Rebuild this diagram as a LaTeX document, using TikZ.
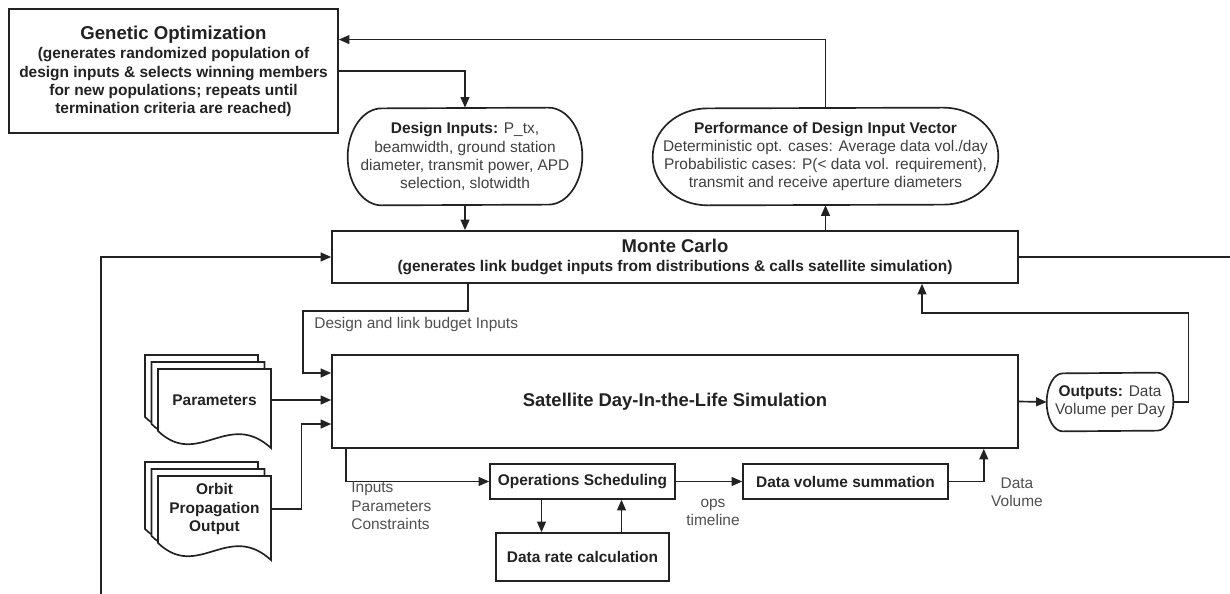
\documentclass[tikz,border=0pt]{standalone}
\usepackage{fontspec}
\setmainfont{Liberation Sans}
\usepackage{tikz}
\usetikzlibrary{arrows.meta,positioning,calc}
\definecolor{ink}{HTML}{222222}
\definecolor{txt}{HTML}{404040}
\definecolor{labelgray}{HTML}{505050}

% one sheet of a document stack, top left at origin
\newcommand{\docpage}[1]{%
  \filldraw[wire, fill=white] (0,0) -- (113,0) -- (113,#1)
    .. controls (70,#1-39) and (40,#1+21) .. (0,#1-17) -- cycle;}
\newcommand{\docstack}[3]{%
  \begin{scope}[shift={(#1-13,#2-14)}]\docpage{#3}\end{scope}
  \begin{scope}[shift={(#1-6.5,#2-7)}]\docpage{#3}\end{scope}
  \begin{scope}[shift={(#1,#2)}]\docpage{#3}\end{scope}}
% outline with elliptic ends round a node
\newcommand{\capsule}[3]{%
  \draw[wire] ($(#1.north east)+(-#2,0)$)
    arc[start angle=90, end angle=-90, x radius=#2, y radius=#3]
    -- ($(#1.south west)+(#2,0)$)
    arc[start angle=270, end angle=90, x radius=#2, y radius=#3] -- cycle;}

\begin{document}
\begin{tikzpicture}[
  x=0.02cm, y=-0.02cm,
  every node/.style={font=\fontsize{8.8}{10.3}\selectfont, text=txt},
  wire/.style={draw=ink, line width=0.95pt},
  blk/.style={wire, fill=white, align=center, inner sep=2pt,
    font=\fontsize{8.8}{10.3}\selectfont\bfseries, text=ink},
  term/.style={align=center, inner sep=0pt},
  doctext/.style={align=center, minimum width=2.26cm, inner sep=0pt,
    font=\fontsize{8.8}{10.6}\selectfont\bfseries, text=ink},
  lbl/.style={text=labelgray, inner sep=0pt},
  arr/.style={wire, -{Triangle[length=6pt,width=5pt]}}
]
  \useasboundingbox (0,0) rectangle (1230,594);

  \node[blk, minimum width=6.58cm, minimum height=2.48cm] (gen) at (173.5,71)
    {{\fontsize{10.6}{12}\selectfont Genetic Optimization}\\[1pt]
     (generates randomized population of\\
     design inputs \& selects winning members\\
     for new populations; repeats until\\
     termination criteria are reached)};

  \node[term, minimum width=4.68cm, minimum height=1.94cm] (din) at (465,156.5)
    {\textbf{\color{ink}Design Inputs:} P\_tx,\\ beamwidth, ground station\\
     diameter, transmit power, APD\\ selection, slotwidth};
  \capsule{din}{0.68cm}{0.97cm}

  \node[term, minimum width=6.9cm, minimum height=1.94cm] (perf) at (825.5,156.5)
    {\textbf{\color{ink}Performance of Design Input Vector}\\
     Deterministic opt. cases: Average data vol./day\\
     Probabilistic cases: P(< data vol. requirement),\\
     transmit and receive aperture diameters};
  \capsule{perf}{1.1cm}{0.97cm}

  \node[blk, minimum width=13.72cm, minimum height=1.04cm] (mc) at (675,257)
    {{\fontsize{10.5}{12}\selectfont Monte Carlo}\\
     (generates link budget inputs from distributions \& calls satellite simulation)};

  \node[blk, minimum width=13.72cm, minimum height=1.86cm,
    font=\fontsize{10.5}{12}\selectfont\bfseries] (sat) at (675,401.5)
    {Satellite Day-In-the-Life Simulation};

  \docstack{158}{369}{79}
  \node[doctext] (par) at (214.5,400) {Parameters};
  \docstack{158}{476}{84}
  \node[doctext] (orb) at (214.5,509) {Orbit\\Propagation\\Output};

  \node[blk, minimum width=3.7cm, minimum height=0.7cm] (ops) at (582.5,481.5) {Operations Scheduling};
  \node[blk, minimum width=3.46cm, minimum height=0.96cm] (rate) at (582.5,557) {Data rate calculation};
  \node[blk, minimum width=4.1cm, minimum height=0.7cm] (dvs) at (845.5,481.5) {Data volume summation};

  \node[term, minimum width=2.52cm, minimum height=1.16cm] (outs) at (1110,402)
    {\textbf{\color{ink}Outputs:} Data\\ Volume per Day};
  \capsule{outs}{0.32cm}{0.58cm}

  \coordinate (loopin) at (101,594);
  \coordinate (loopout) at (1230,257);
  \coordinate (genin) at ($(gen.north east)!0.25!(gen.south east)$);

  % optimisation loop
  \draw[arr] (gen.east) -| (din.north);
  \draw[arr] (perf.north) |- (genin);
  \draw[arr] (din.south) -- (din.south |- mc.north);
  \draw[arr] (mc.north -| perf.south) -- (perf.south);
  \draw[arr] (loopin) |- (mc.west);
  \draw[wire] (mc.east) -- (loopout);

  % simulation inputs
  \draw[arr] ($(mc.south)+(-207,0)$) |- ($(sat.north west)+(-28,-43)$) |- ($(sat.west)+(0,-28.5)$);
  \node[lbl, anchor=west] (dlbl) at (314,325) {Design and link budget Inputs};
  \draw[arr] (par.east) -- (par.east -| sat.west);
  \draw[arr] (orb.east) -- ++(30,0) |- ($(sat.west)+(0,22.5)$);

  % inside the simulation
  \draw[arr] ($(sat.south west)+(15,0)$) |- (ops.west);
  \node[lbl, anchor=north west, align=left] (inlbl) at (351,482) {Inputs\\Parameters\\Constraints};
  \draw[arr] ($(ops.south)+(-41,0)$) -- ($(rate.north)+(-41,0)$);
  \draw[arr] ($(rate.north)+(39,0)$) -- ($(ops.south)+(39,0)$);
  \draw[arr] (ops) -- (dvs);
  \node[lbl, align=center] (opslbl) at (713,512) {ops\\timeline};
  \draw[arr] (dvs.east) -| ($(sat.south east)+(-35,0)$);
  \node[lbl, align=center] (dvlbl) at (1017,492) {Data\\Volume};

  % outputs back to Monte Carlo
  \draw[arr] (sat.east) -- (outs.west);
  \draw[arr] (outs.east) -- ++(15,0) |- ($(mc.south)+(247,29)$) -- ($(mc.south)+(247,0)$);
\end{tikzpicture}
\end{document}
